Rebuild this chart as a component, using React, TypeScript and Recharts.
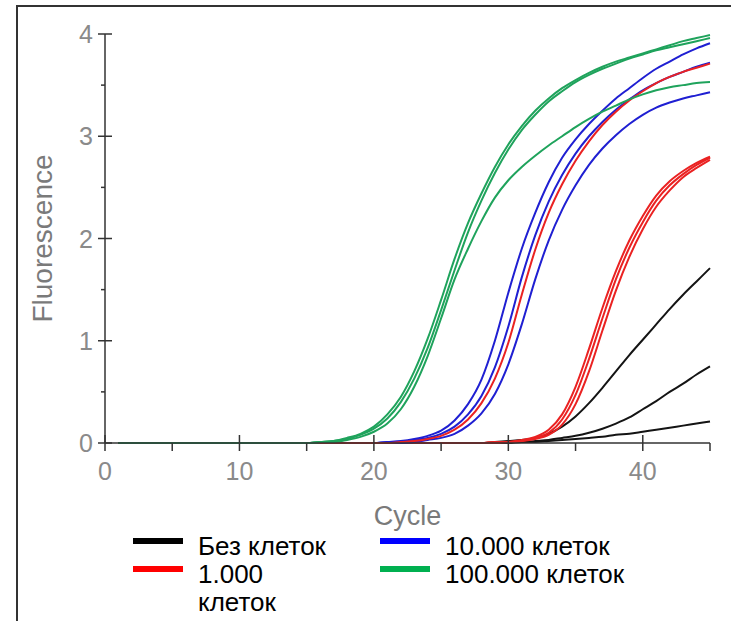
import { LineChart, Line, XAxis, YAxis, Legend } from 'recharts'

const FONT = '"Liberation Sans", Arial, sans-serif'

const cycles = [
  1, 2, 3, 4, 5, 6, 7, 8, 9, 10,
  11, 12, 13, 14, 15, 16, 17, 18, 19, 20,
  21, 22, 23, 24, 25, 26, 27, 28, 29, 30,
  31, 32, 33, 34, 35, 36, 37, 38, 39, 40,
  41, 42, 43, 44, 45,
]

// 100.000 cells
const green1 = [
  0, 0, 0, 0, 0, 0, 0, 0, 0, 0,
  0, 0, 0, 0, 0, 0.01, 0.02, 0.05, 0.09, 0.16,
  0.28, 0.45, 0.7, 1.02, 1.4, 1.8, 2.15, 2.44, 2.7, 2.92,
  3.1, 3.25, 3.37, 3.47, 3.55, 3.62, 3.68, 3.73, 3.77, 3.81,
  3.85, 3.89, 3.93, 3.96, 3.99,
]
const green2 = [
  0, 0, 0, 0, 0, 0, 0, 0, 0, 0,
  0, 0, 0, 0, 0, 0.01, 0.02, 0.04, 0.08, 0.14,
  0.24, 0.4, 0.63, 0.93, 1.3, 1.69, 2.06, 2.37, 2.64, 2.87,
  3.06, 3.21, 3.34, 3.44, 3.53, 3.6, 3.66, 3.71, 3.76, 3.8,
  3.84, 3.87, 3.9, 3.93, 3.96,
]
const green3 = [
  0, 0, 0, 0, 0, 0, 0, 0, 0, 0,
  0, 0, 0, 0, 0, 0.01, 0.01, 0.03, 0.06, 0.11,
  0.19, 0.33, 0.55, 0.85, 1.22, 1.6, 1.9, 2.17, 2.4, 2.57,
  2.7, 2.81, 2.91, 3.0, 3.09, 3.17, 3.24, 3.3, 3.36, 3.41,
  3.45, 3.48, 3.5, 3.52, 3.53,
]

// 10.000 cells
const blue1 = [
  0, 0, 0, 0, 0, 0, 0, 0, 0, 0,
  0, 0, 0, 0, 0, 0, 0, 0, 0, 0,
  0.01, 0.02, 0.04, 0.07, 0.12, 0.22, 0.38, 0.62, 1.0, 1.47,
  1.9, 2.25, 2.55, 2.79, 2.97, 3.12, 3.25, 3.37, 3.47, 3.57,
  3.66, 3.73, 3.8, 3.86, 3.91,
]
const blue2 = [
  0, 0, 0, 0, 0, 0, 0, 0, 0, 0,
  0, 0, 0, 0, 0, 0, 0, 0, 0, 0,
  0.01, 0.01, 0.03, 0.05, 0.09, 0.16, 0.28, 0.46, 0.74, 1.14,
  1.62, 2.03, 2.36, 2.62, 2.83, 3.0, 3.14, 3.26, 3.36, 3.45,
  3.52, 3.58, 3.63, 3.68, 3.72,
]
const blue3 = [
  0, 0, 0, 0, 0, 0, 0, 0, 0, 0,
  0, 0, 0, 0, 0, 0, 0, 0, 0, 0,
  0, 0, 0.01, 0.03, 0.05, 0.09, 0.17, 0.29, 0.48, 0.77,
  1.16, 1.6, 1.98, 2.28, 2.52, 2.72, 2.88, 3.01, 3.12, 3.21,
  3.28, 3.33, 3.37, 3.4, 3.43,
]

// 1.000 cells
const red1 = [
  0, 0, 0, 0, 0, 0, 0, 0, 0, 0,
  0, 0, 0, 0, 0, 0, 0, 0, 0, 0,
  0, 0.01, 0.02, 0.04, 0.07, 0.13, 0.23, 0.39, 0.63, 0.98,
  1.45, 1.89, 2.25, 2.53, 2.76, 2.95, 3.11, 3.24, 3.35, 3.44,
  3.52, 3.58, 3.63, 3.67, 3.71,
]
const red2 = [
  0, 0, 0, 0, 0, 0, 0, 0, 0, 0,
  0, 0, 0, 0, 0, 0, 0, 0, 0, 0,
  0, 0, 0, 0, 0, 0, 0, 0, 0.01, 0.01,
  0.03, 0.06, 0.13, 0.28, 0.55, 0.92, 1.32, 1.68, 1.98, 2.22,
  2.42, 2.56, 2.66, 2.74, 2.8,
]
const red3 = [
  0, 0, 0, 0, 0, 0, 0, 0, 0, 0,
  0, 0, 0, 0, 0, 0, 0, 0, 0, 0,
  0, 0, 0, 0, 0, 0, 0, 0, 0.01, 0.01,
  0.02, 0.05, 0.1, 0.23, 0.47, 0.82, 1.22, 1.6, 1.91, 2.16,
  2.37, 2.52, 2.63, 2.72, 2.79,
]
const red4 = [
  0, 0, 0, 0, 0, 0, 0, 0, 0, 0,
  0, 0, 0, 0, 0, 0, 0, 0, 0, 0,
  0, 0, 0, 0, 0, 0, 0, 0, 0, 0.01,
  0.02, 0.04, 0.08, 0.18, 0.38, 0.7, 1.1, 1.49, 1.82, 2.09,
  2.31, 2.47, 2.6, 2.69, 2.77,
]

// no cells
const black1 = [
  0, 0, 0, 0, 0, 0, 0, 0, 0, 0,
  0, 0, 0, 0, 0, 0, 0, 0, 0, 0,
  0, 0, 0, 0, 0, 0, 0, 0, 0.01, 0.02,
  0.03, 0.05, 0.09, 0.16, 0.26, 0.39, 0.54, 0.7, 0.86, 1.01,
  1.16, 1.31, 1.45, 1.58, 1.71,
]
const black2 = [
  0, 0, 0, 0, 0, 0, 0, 0, 0, 0,
  0, 0, 0, 0, 0, 0, 0, 0, 0, 0,
  0, 0, 0, 0, 0, 0, 0, 0, 0, 0.01,
  0.01, 0.02, 0.03, 0.05, 0.07, 0.1, 0.14, 0.19, 0.25, 0.33,
  0.41, 0.5, 0.58, 0.67, 0.75,
]
const black3 = [
  0, 0, 0, 0, 0, 0, 0, 0, 0, 0,
  0, 0, 0, 0, 0, 0, 0, 0, 0, 0,
  0, 0, 0, 0, 0, 0, 0, 0, 0, 0,
  0.01, 0.01, 0.02, 0.03, 0.04, 0.05, 0.06, 0.08, 0.09, 0.11,
  0.13, 0.15, 0.17, 0.19, 0.21,
]

const xTicks = [0, 5, 10, 15, 20, 25, 30, 35, 40, 45]
const yTicks = [0, 0.5, 1, 1.5, 2, 2.5, 3, 3.5, 4]

const legendItems = [
  { label: 'Без клеток', color: '#000000' },
  { label: '10.000 клеток', color: '#0000ff' },
  { label: '1.000 клеток', color: '#ff0000' },
  { label: '100.000 клеток', color: '#00b050' },
]

const BLACK = '#141414'
const RED = '#ea2222'
const BLUE = '#1f1fd2'
const GREEN = '#1fa35c'

// drawing order: black at the bottom, green on top
const series = [
  { key: 'black1', values: black1, color: BLACK },
  { key: 'black2', values: black2, color: BLACK },
  { key: 'black3', values: black3, color: BLACK },
  { key: 'red2', values: red2, color: RED },
  { key: 'red3', values: red3, color: RED },
  { key: 'red4', values: red4, color: RED },
  { key: 'blue1', values: blue1, color: BLUE },
  { key: 'blue2', values: blue2, color: BLUE },
  { key: 'blue3', values: blue3, color: BLUE },
  { key: 'red1', values: red1, color: RED },
  { key: 'green3', values: green3, color: GREEN },
  { key: 'green2', values: green2, color: GREEN },
  { key: 'green1', values: green1, color: GREEN },
]

const rows = cycles.map((cycle, i) => {
  const row: Record<string, number> = { cycle }
  series.forEach((s) => {
    row[s.key] = s.values[i]
  })
  return row
})

const AXIS = '#333'

function XTick({ x, y, payload }: any) {
  const major = payload.value % 10 === 0
  return (
    <g>
      <line x1={x} x2={x} y1={major ? y - 8 : y} y2={y + 8} stroke={AXIS} strokeWidth={1.5} />
      {major && (
        <text x={x} y={y + 28} textAnchor="middle" dominantBaseline="central" fill="#8a8a8a" fontSize={25} fontFamily={FONT}>
          {payload.value}
        </text>
      )}
    </g>
  )
}

function YTick({ x, y, payload }: any) {
  const major = payload.value % 1 === 0
  return (
    <g>
      <line x1={major ? x - 7 : x - 4} x2={major ? x + 7 : x} y1={y} y2={y} stroke={AXIS} strokeWidth={1.5} />
      {major && (
        <text x={x - 12} y={y} textAnchor="end" dominantBaseline="central" fill="#8a8a8a" fontSize={25} fontFamily={FONT}>
          {payload.value}
        </text>
      )}
    </g>
  )
}

function CycleLabel({ viewBox }: any) {
  const cx = viewBox.x + viewBox.width / 2
  return (
    <text x={cx} y={viewBox.y + 73} textAnchor="middle" dominantBaseline="central" fill="#7a7a7a" fontSize={27} fontFamily={FONT}>
      Cycle
    </text>
  )
}

function FluoLabel({ viewBox }: any) {
  const cx = viewBox.x + 42
  const cy = viewBox.y + viewBox.height / 2
  return (
    <text x={cx} y={cy} transform={`rotate(-90 ${cx} ${cy})`} textAnchor="middle" dominantBaseline="central" fill="#7a7a7a" fontSize={28} fontFamily={FONT}>
      Fluorescence
    </text>
  )
}

function LegendBox() {
  return (
    <div style={{ display: 'grid', gridTemplateColumns: '247px auto', fontFamily: FONT, fontSize: 26, lineHeight: '28px', color: '#000' }}>
      {legendItems.map((item, i) => (
        <div key={item.label} style={{ display: 'flex', alignItems: 'flex-start' }}>
          <div style={{ width: 50, height: 6, background: item.color, marginTop: 6, marginRight: 15, flexShrink: 0 }} />
          <div style={i % 2 === 0 ? { width: 145 } : { whiteSpace: 'nowrap' }}>{item.label}</div>
        </div>
      ))}
    </div>
  )
}

export default function App() {
  return (
    <div style={{ position: 'absolute', left: 0, top: 0, width: 731, height: 621, background: '#fff', overflow: 'hidden' }}>
      <div style={{ position: 'absolute', left: 16, top: 5, right: 0, bottom: 0, borderLeft: '2px solid #333', borderTop: '2px solid #333' }} />
      <LineChart width={731} height={621} data={rows} margin={{ top: 34, right: 21, bottom: 93, left: 0 }}>
        <XAxis
          dataKey="cycle"
          type="number"
          domain={[0, 45]}
          ticks={xTicks}
          interval={0}
          tickSize={0}
          tickMargin={0}
          tickLine={false}
          axisLine={{ stroke: AXIS, strokeWidth: 1.5 }}
          tick={<XTick />}
          height={85}
          label={{ content: CycleLabel }}
        />
        <YAxis
          type="number"
          domain={[0, 4]}
          ticks={yTicks}
          interval={0}
          tickSize={0}
          tickMargin={0}
          tickLine={false}
          axisLine={{ stroke: AXIS, strokeWidth: 1.5 }}
          tick={<YTick />}
          width={105}
          label={{ content: FluoLabel }}
        />
        <Legend verticalAlign="middle" align="center" layout="horizontal" wrapperStyle={{ top: 532, left: 133, width: 560 }} content={<LegendBox />} />
        {series.map((s) => (
          <Line
            key={s.key}
            dataKey={s.key}
            type="monotone"
            stroke={s.color}
            strokeWidth={2}
            dot={false}
            activeDot={false}
            isAnimationActive={false}
          />
        ))}
      </LineChart>
    </div>
  )
}
